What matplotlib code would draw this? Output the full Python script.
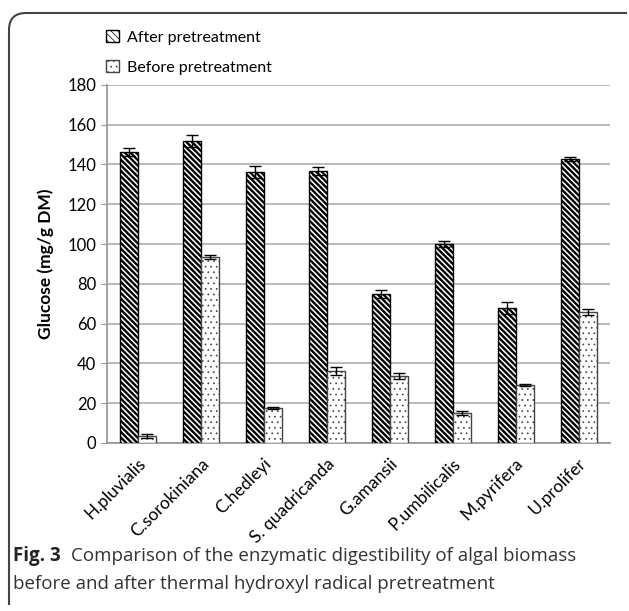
import matplotlib
matplotlib.use('Agg')
import matplotlib.pyplot as plt
from matplotlib.path import Path
from matplotlib.patches import PathPatch, Patch
from matplotlib.transforms import ScaledTranslation
import numpy as np

# Data
species = ['H.pluvialis', 'C.sorokiniana', 'C.hedleyi', 'S. quadricanda', 'G.amansii',
           'P.umbilicalis', 'M.pyrifera', 'U.prolifer']
after = [146.5, 152.0, 136.0, 136.5, 75.0, 100.0, 68.0, 143.0]
after_err = [2.0, 3.0, 3.0, 2.0, 2.0, 1.5, 3.0, 1.0]
before = [3.5, 93.5, 17.5, 36.0, 33.5, 15.0, 29.0, 66.0]
before_err = [1.0, 1.0, 0.5, 2.0, 1.5, 1.0, 0.5, 1.5]

plt.rcParams['font.family'] = ['Lato', 'DejaVu Sans']

HATCH_A = '\\' * 6
HATCH_B = '...'


def set_hlw(patches, lw):
    for p in patches:
        if hasattr(p, 'set_hatch_linewidth'):
            p.set_hatch_linewidth(lw)


fig = plt.figure(figsize=(6.29, 6.11), dpi=100)
ax = fig.add_axes([0.170, 0.275, 0.800, 0.586])

x = np.arange(len(species))
w = 0.285
plt.rcParams['hatch.linewidth'] = 1.7
b1 = ax.bar(x - w / 2, after, w, facecolor='white', edgecolor='black', hatch=HATCH_A,
            linewidth=1.0, zorder=3)
set_hlw(b1, 1.7)
plt.rcParams['hatch.linewidth'] = 0.5
b2 = ax.bar(x + w / 2, before, w, facecolor='white', edgecolor='#444444', hatch=HATCH_B,
            linewidth=1.0, zorder=3)
set_hlw(b2, 0.5)
ax.errorbar(x - w / 2, after, yerr=after_err, fmt='none', ecolor='black',
            elinewidth=1, capsize=4, capthick=1, zorder=4)
ax.errorbar(x + w / 2, before, yerr=before_err, fmt='none', ecolor='black',
            elinewidth=1, capsize=4, capthick=1, zorder=4)

ax.set_xlim(-0.5, len(species) - 0.5)
ax.set_ylim(0, 180)
ax.set_yticks(range(0, 181, 20))
ax.yaxis.grid(True, color='#b3b3b3', linewidth=1.3, zorder=0)
ax.set_axisbelow(True)
for s in ['top', 'right']:
    ax.spines[s].set_visible(False)
for s in ['left', 'bottom']:
    ax.spines[s].set_color('#999999')
    ax.spines[s].set_linewidth(1.3)
ax.tick_params(axis='y', colors='#999999', labelcolor='black', labelsize=12, length=4)
ax.tick_params(axis='x', length=0, labelsize=12.5, pad=13)
ax.set_xticks(x)
ax.set_xticklabels(species, rotation=45, ha='right', va='center', rotation_mode='anchor')
shift = ScaledTranslation(5 / 100, 0, fig.dpi_scale_trans)
for lab in ax.get_xticklabels():
    lab.set_transform(lab.get_transform() + shift)
ax.set_ylabel('Glucose (mg/g DM)', fontsize=12.5, fontweight='bold', labelpad=10)

plt.rcParams['hatch.linewidth'] = 1.6
h1 = Patch(facecolor='white', edgecolor='black', hatch='\\' * 5)
plt.rcParams['hatch.linewidth'] = 0.5
h2 = Patch(facecolor='white', edgecolor='#444444', hatch='...')
set_hlw([h1], 1.6)
set_hlw([h2], 0.5)
fig.legend([h1, h2], ['After pretreatment', 'Before pretreatment'], loc='upper left',
           bbox_to_anchor=(0.146, 0.974), frameon=False, fontsize=11.5,
           handlelength=0.8, handleheight=0.8, handletextpad=0.5, labelspacing=0.95)

# caption
fig.text(0.021, 0.090, 'Fig. 3', fontsize=13.5, fontweight='bold', color='#222222',
         family='Open Sans', va='center')
fig.text(0.113, 0.090, 'Comparison of the enzymatic digestibility of algal biomass',
         fontsize=13.5, color='#333333', family='Open Sans', va='center')
fig.text(0.021, 0.044, 'before and after thermal hydroxyl radical pretreatment',
         fontsize=13.5, color='#333333', family='Open Sans', va='center')

# rounded frame (top and left only)
W, H = 629, 611
verts = [(9 / W, 1 - 605 / H), (9 / W, 1 - 30 / H), (9 / W, 1 - 13 / H),
         (26 / W, 1 - 13 / H), (627 / W, 1 - 13 / H)]
codes = [Path.MOVETO, Path.LINETO, Path.CURVE3, Path.CURVE3, Path.LINETO]
fig.patches.append(PathPatch(Path(verts, codes), transform=fig.transFigure,
                             facecolor='none', edgecolor='#444444', linewidth=1.5))

fig.savefig('out.png', dpi=100)
